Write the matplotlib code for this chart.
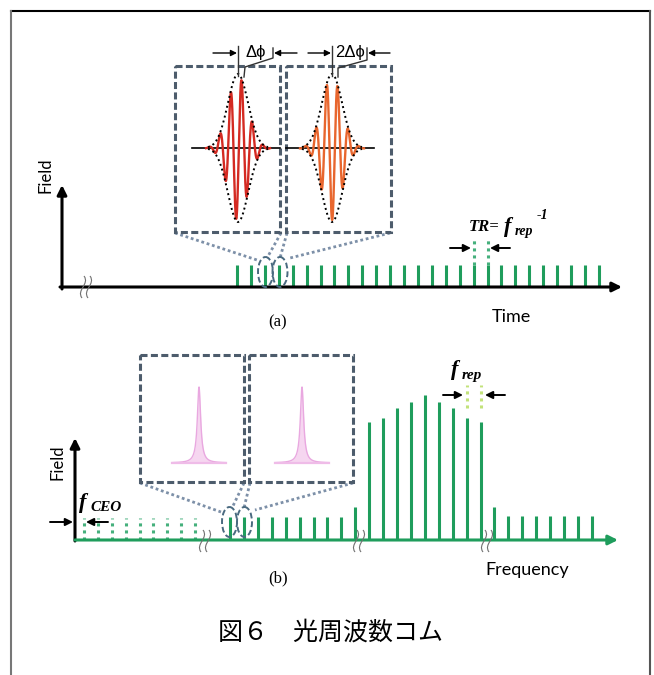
import numpy as np
import matplotlib
matplotlib.use("Agg")
import matplotlib.pyplot as plt
from matplotlib.patches import Ellipse, Rectangle, PathPatch
from matplotlib.path import Path
from matplotlib.transforms import Affine2D

# ---- data ----
# (a) pulse train: pulse index and relative field height
time_pulse_idx = list(range(27))
time_pulse_h = [1.0] * 27
time_marked_idx = [17, 18]          # the two pulses that show T_R
time_marked_h = 2.23

# (b) frequency comb: tooth index and relative height
ceo_idx = [-10.5, -9.5, -8.5, -7.5, -6.5, -5.5, -4.5, -3.5, -2.5]
ceo_h = [1.0] * 9
comb_idx = list(range(27))
comb_h = [1.05, 1.05, 1.05, 1.05, 1.05, 1.05, 1.05, 1.05, 1.05, 1.5,
          5.36, 5.55, 6.0, 6.27, 6.6, 6.27, 6.0, 5.55, 5.36,
          1.5, 1.1, 1.1, 1.1, 1.1, 1.1, 1.1, 1.1]
rep_marked_idx = [17, 18]
rep_marked_lo, rep_marked_hi = 6.0, 7.05

# inset pulse shapes (pixel scale parameters)
carrier_period = 10.7
envelope_width = 14.0
pulse_phase_shift = [3.5, 5.5]      # carrier peak offset from envelope peak
line_width_hwhm = 2.0

GREEN = "#1f9d5c"
GREEN_DOT = "#45b07c"
BOX = "#4d5c6c"
LINK = "#7d90a8"

fig = plt.figure(figsize=(6.54, 6.75), dpi=100)
ax = fig.add_axes([0, 0, 1, 1])
ax.set_xlim(0, 654)
ax.set_ylim(675, 0)
ax.axis("off")

# frame
ax.plot([11, 650], [11, 11], color="k", lw=1.5)
ax.plot([11, 11], [11, 675], color="#777777", lw=1.5)
ax.plot([650, 650], [11, 675], color="#555555", lw=1.5)


def arrow(x0, y0, x1, y1, color="k", lw=1.4, ms=11):
    ax.annotate("", xy=(x1, y1), xytext=(x0, y0),
                arrowprops=dict(arrowstyle="-|>", color=color, lw=lw,
                                mutation_scale=ms, shrinkA=0, shrinkB=0))


def break_mark(x, y):
    for dx in (-3, 3):
        verts = [(x + dx + 1, y - 11), (x + dx + 7, y - 3),
                 (x + dx - 7, y + 3), (x + dx - 1, y + 11)]
        p = Path(verts, [Path.MOVETO, Path.CURVE4, Path.CURVE4, Path.CURVE4])
        ax.add_patch(PathPatch(p, fc="none", ec="#707070", lw=0.8, zorder=6))


# ================= (a) time domain =================
Ta = Affine2D().scale(13.92, -22).translate(237, 287) + ax.transData
ax.vlines(time_pulse_idx, 0, time_pulse_h, color=GREEN, lw=2.2, transform=Ta)
ax.vlines(time_marked_idx, 1.0, time_marked_h, color=GREEN_DOT, lw=2.2,
          linestyles=(0, (1, 1.3)), transform=Ta)

arrow(62, 289, 62, 185, lw=2.2, ms=14)
arrow(60, 287, 622, 287, lw=2.2, ms=14)
break_mark(86, 287)

arrow(450, 248, 471, 248, lw=1.4)
arrow(510, 248, 490, 248, lw=1.4)

ax.text(46, 175, "Field", rotation=90, ha="center", va="center",
        family="Lato", fontsize=12)
ax.text(511, 317, "Time", ha="center", va="center", family="Lato", fontsize=13)
ax.text(278, 322, "(a)", ha="center", va="center", family="Liberation Serif",
        fontsize=12)

sf = dict(family="Liberation Serif", style="italic", weight="bold")
ax.text(469, 231, "TR=", fontsize=12, **sf)
ax.text(504, 232, "f", fontsize=16, **sf)
ax.text(515, 235, "rep", fontsize=10, **sf)
ax.text(537, 219, "-1", fontsize=10, **sf)

# insets with wave packets
for bx, cx, col, ph in [(175, 238, "#d42a22", pulse_phase_shift[0]),
                        (286, 332, "#e8662e", pulse_phase_shift[1])]:
    ax.add_patch(Rectangle((bx, 66), 105, 166, fill=False, ec=BOX, lw=2.2,
                           ls=(0, (2.3, 1.1)), zorder=5))
    ax.plot([cx - 46, cx + 42], [148, 148], color="k", lw=1.2, zorder=6)
    x = np.linspace(cx - 32, cx + 32, 800)
    env = 72 * np.exp(-((x - cx) / envelope_width) ** 2)
    ax.plot(x, 148 - env * np.cos(2 * np.pi * (x - cx - ph) / carrier_period),
            color=col, lw=1.7, zorder=6)
    xe = np.linspace(cx - 30, cx + 30, 200)
    enve = 74 * np.exp(-((xe - cx) / (envelope_width * 1.02)) ** 2)
    for s in (1, -1):
        ax.plot(xe, 148 - s * enve, color="k", lw=1.4, ls=(0, (1, 1.6)), zorder=7)

# phase brackets
kb = dict(color="#333333", lw=1.0, zorder=7)
ax.plot([238, 238], [46, 76], **kb)
ax.plot([273, 273, 245, 244], [48, 58, 67, 77], **kb)
arrow(213, 53, 237, 53, lw=1.0, ms=9)
arrow(297, 53, 274, 53, lw=1.0, ms=9)
ax.text(256, 53, "Δϕ", ha="center", va="center", fontsize=12,
        family=["Liberation Sans", "DejaVu Sans"])
ax.plot([332, 332], [46, 76], **kb)
ax.plot([367, 367, 338, 338], [48, 60, 68, 77], **kb)
arrow(308, 53, 331, 53, lw=1.0, ms=9)
arrow(390, 53, 368, 53, lw=1.0, ms=9)
ax.text(350, 53, "2Δϕ", ha="center", va="center", fontsize=12,
        family=["Liberation Sans", "DejaVu Sans"])

# zoom links
ax.add_patch(Ellipse((265.5, 272), 15, 30, fill=False, ec="#4a6a80", lw=1.4,
                     ls=(0, (3, 1.5)), zorder=6))
ax.add_patch(Ellipse((280, 272), 15, 30, fill=False, ec="#4a6a80", lw=1.4,
                     ls=(0, (3, 1.5)), zorder=6))
lk = dict(color=LINK, lw=2.0, ls=(0, (1, 1)), zorder=4)
ax.plot([175, 257], [233, 260], **lk)
ax.plot([281, 267], [233, 258], **lk)
ax.plot([287, 280], [233, 258], **lk)
ax.plot([390, 290], [233, 258], **lk)

# ================= (b) frequency domain =================
Tb = Affine2D().scale(13.92, -22).translate(230, 540) + ax.transData
ax.vlines(ceo_idx, 0, ceo_h, color=GREEN_DOT, lw=2.2,
          linestyles=(0, (1, 1.3)), transform=Tb)
ax.vlines(comb_idx, 0, comb_h, color=GREEN, lw=2.2, transform=Tb)
ax.vlines(rep_marked_idx, rep_marked_lo, rep_marked_hi, color="#c2e27a",
          lw=2.2, linestyles=(0, (1, 1.3)), transform=Tb)

arrow(75, 541, 75, 438, lw=2.2, ms=14)
arrow(75, 540, 618, 540, color=GREEN, lw=2.2, ms=14)
for bxm in (205, 359, 487):
    break_mark(bxm, 541)

arrow(50, 522, 73, 522, lw=1.4)
arrow(108, 522, 86, 522, lw=1.4)
arrow(443, 395, 463, 395, lw=1.4)
arrow(505, 395, 485, 395, lw=1.4)

ax.text(57, 462, "Field", rotation=90, ha="center", va="center",
        family="Lato", fontsize=12)
ax.text(527, 570, "Frequency", ha="center", va="center", family="Lato",
        fontsize=13)
ax.text(278, 578, "(b)", ha="center", va="center", family="Liberation Serif",
        fontsize=12)
ax.text(79, 508, "f", fontsize=16, **sf)
ax.text(90, 511, "CEO", fontsize=11, **sf)
ax.text(451, 375, "f", fontsize=16, **sf)
ax.text(462, 379, "rep", fontsize=11, **sf)

for bx, cx in [(140, 199), (249, 302)]:
    ax.add_patch(Rectangle((bx, 355), 104, 127, fill=False, ec=BOX, lw=2.2,
                           ls=(0, (2.3, 1.1)), zorder=5))
    x = np.linspace(cx - 27, cx + 27, 600)
    y = 463 - 76 * line_width_hwhm ** 2 / ((x - cx) ** 2 + line_width_hwhm ** 2)
    ax.fill_between(x, y, 463, color="#f6d6f0", lw=0, zorder=5)
    ax.plot(x, y, color="#e9a8e0", lw=1.0, zorder=6)
    ax.plot([cx - 27, cx + 27], [463, 463], color="#efbce8", lw=1.6, zorder=6)

ax.add_patch(Ellipse((229.5, 522), 15, 30, fill=False, ec="#4a6a80", lw=1.4,
                     ls=(0, (3, 1.5)), zorder=6))
ax.add_patch(Ellipse((244.5, 522), 15, 30, fill=False, ec="#4a6a80", lw=1.4,
                     ls=(0, (3, 1.5)), zorder=6))
ax.plot([140, 221], [483, 512], **lk)
ax.plot([244, 232], [483, 508], **lk)
ax.plot([250, 244], [483, 508], **lk)
ax.plot([353, 255], [483, 510], **lk)

# caption
ax.text(330, 633, "図６　光周波数コム", ha="center", va="center",
        family=["Noto Sans CJK JP", "DejaVu Sans"], fontsize=18)

fig.savefig("out.png", dpi=100)
